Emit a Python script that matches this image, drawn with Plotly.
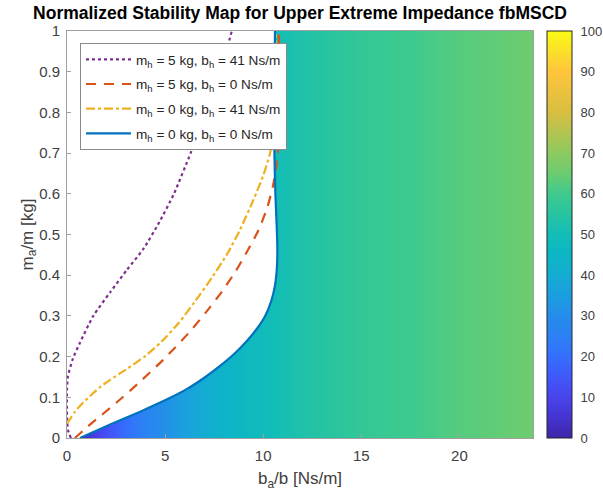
import plotly.graph_objects as go

# Stability index profile across the damping ratio axis (colour map values)
b_cols = [0, 1, 2, 3, 4, 5, 6, 7, 8, 9, 10, 11, 12, 13, 14, 15, 16, 17, 18, 19, 20, 21, 22, 23, 24]
idx_vals = [0, 5, 13, 20, 26, 31, 36, 40, 43.5, 46.5, 49, 51, 53, 54.5, 56, 57.5, 58.5, 59.5, 60.5,
            61.5, 62.5, 63.2, 64, 64.7, 65.4]
m_rows = [0, 1]

# Stability boundaries (b_a/b, m_a/m) for each human impedance case
blue_b = [0.66, 2.2, 3.7, 5.1, 6.1, 7.0, 7.8, 8.6, 9.2, 9.7, 10.1, 10.4, 10.6, 10.7, 10.72, 10.68,
          10.62, 10.57, 10.56, 10.58, 10.6]
blue_m = [0.0, 0.033, 0.064, 0.095, 0.12, 0.148, 0.177, 0.21, 0.24, 0.27, 0.30, 0.335, 0.375, 0.42,
          0.47, 0.53, 0.6, 0.7, 0.8, 0.9, 1.0]

orange_b = [0.4, 1.2, 2.5, 3.6, 4.9, 6.2, 7.1, 7.9, 8.6, 9.2, 9.75, 10.2, 10.5, 10.7, 10.8,
            10.82, 10.8]
orange_m = [0.0, 0.034, 0.086, 0.133, 0.192, 0.258, 0.31, 0.36, 0.41, 0.46, 0.51, 0.565, 0.62, 0.68,
            0.75, 0.85, 1.0]

yellow_b = [0.0, 0.41, 0.83, 1.26, 1.68, 2.2, 3.0, 4.0, 4.8, 5.7, 6.5, 7.4, 8.2, 8.8, 9.5, 10.0,
            10.35, 10.55, 10.65, 10.65]
yellow_m = [0.035, 0.065, 0.087, 0.107, 0.125, 0.143, 0.168, 0.202, 0.236, 0.283, 0.334, 0.395,
            0.455, 0.51, 0.585, 0.645, 0.7, 0.76, 0.85, 1.0]

purple_b = [0.2, 0.05, 0.0, 0.0, 0.05, 0.3, 0.66, 1.34, 2.2, 3.05, 3.9, 4.7, 5.45, 6.3, 7.0, 7.6,
            8.0, 8.4]
purple_m = [0.0, 0.02, 0.05, 0.12, 0.152, 0.195, 0.234, 0.30, 0.358, 0.413, 0.465, 0.53, 0.6, 0.7,
            0.79, 0.87, 0.93, 1.0]

labels = [
    "m<sub>h</sub> = 5 kg, b<sub>h</sub> = 41 Ns/m",
    "m<sub>h</sub> = 5 kg, b<sub>h</sub> = 0 Ns/m",
    "m<sub>h</sub> = 0 kg, b<sub>h</sub> = 41 Ns/m",
    "m<sub>h</sub> = 0 kg, b<sub>h</sub> = 0 Ns/m",
]

y_ticks = [0, 0.1, 0.2, 0.3, 0.4, 0.5, 0.6, 0.7, 0.8, 0.9, 1]
y_tick_text = ["0", "0.1", "0.2", "0.3", "0.4", "0.5", "0.6", "0.7", "0.8", "0.9", "1"]
x_ticks = [0, 5, 10, 15, 20]
cbar_ticks = [0, 10, 20, 30, 40, 50, 60, 70, 80, 90, 100]

parula = [
    [0.00, "rgb(62,38,168)"], [0.05, "rgb(69,52,208)"], [0.10, "rgb(72,68,236)"],
    [0.15, "rgb(64,88,250)"], [0.20, "rgb(52,111,253)"], [0.25, "rgb(45,128,245)"],
    [0.30, "rgb(36,141,234)"], [0.35, "rgb(28,158,224)"], [0.40, "rgb(20,172,210)"],
    [0.45, "rgb(12,182,196)"], [0.50, "rgb(18,189,184)"], [0.55, "rgb(40,196,160)"],
    [0.60, "rgb(62,202,142)"], [0.65, "rgb(108,204,112)"], [0.70, "rgb(142,202,96)"],
    [0.80, "rgb(216,190,65)"], [0.90, "rgb(254,197,60)"], [1.00, "rgb(249,251,21)"],
]

FONT = "Liberation Sans, Arial, sans-serif"
TXT = "#262626"

# figure geometry (pixels)
W, H = 603, 495
ML, MR, MT, MB = 67, 0, 31, 57
PLOT_RIGHT = 533
CBAR_LEFT = 547
inner_w = W - ML - MR

fig = go.Figure()

fig.add_trace(go.Heatmap(
    x=b_cols, y=m_rows, z=[idx_vals, idx_vals],
    zmin=0, zmax=100, zsmooth="best", colorscale=parula, showscale=True,
    colorbar=dict(
        x=(CBAR_LEFT - ML) / inner_w, xanchor="left", y=0.5, yanchor="middle",
        len=1.0, lenmode="fraction", xpad=0, ypad=0,
        thickness=25, thicknessmode="pixels", outlinewidth=1, outlinecolor=TXT,
        tickvals=cbar_ticks, ticks="outside", ticklen=6, tickcolor="rgba(0,0,0,0)",
        tickfont=dict(family=FONT, size=13, color="#404040"),
    ),
    hoverinfo="skip", showlegend=False,
))

# unstable region to the left of the nominal boundary is left blank
fig.add_trace(go.Scatter(
    x=blue_b, y=blue_m, mode="lines", line=dict(width=0, shape="spline", smoothing=0.6),
    fill="tozerox", fillcolor="white", showlegend=False, hoverinfo="skip",
))

curves = [
    (purple_b, purple_m, "#7E2F8E", "dot", labels[0]),
    (orange_b, orange_m, "#D95319", "10px,8px", labels[1]),
    (yellow_b, yellow_m, "#EDB120", "dashdot", labels[2]),
    (blue_b, blue_m, "#0072BD", "solid", labels[3]),
]
for i, (bx, my, col, dash, name) in enumerate(curves):
    fig.add_trace(go.Scatter(
        x=bx, y=my, mode="lines", name=name, legendgroup=f"g{i}",
        line=dict(color=col, width=2.2, dash=dash, shape="spline", smoothing=0.6),
    ))

axis_common = dict(
    showline=True, mirror=True, linecolor="#a0a0a0", linewidth=1,
    ticks="inside", ticklen=4, tickcolor="#a0a0a0",
    showgrid=False, zeroline=False,
    tickfont=dict(family=FONT, size=15, color="#404040"),
)

fig.update_layout(
    width=W, height=H,
    margin=dict(l=ML, r=MR, t=MT, b=MB, autoexpand=False),
    paper_bgcolor="white", plot_bgcolor="white",
    title=dict(
        text="<b>Normalized Stability Map for Upper Extreme Impedance fbMSCD</b>",
        x=(ML + PLOT_RIGHT) / 2 / W, xanchor="center", y=1 - 13 / H, yanchor="middle",
        font=dict(family=FONT, size=17.5, color="#000000"),
    ),
    xaxis=dict(
        domain=[0, (PLOT_RIGHT - ML) / inner_w],
        range=[0, 23.75], tickvals=x_ticks, ticklabelstandoff=4,
        title=dict(text="b<sub>a</sub>/b [Ns/m]", standoff=9,
                   font=dict(family=FONT, size=17, color="#404040")),
        **axis_common,
    ),
    yaxis=dict(
        range=[0, 1], tickvals=y_ticks, ticktext=y_tick_text, ticklabelstandoff=3,
        title=dict(text="m<sub>a</sub>/m [kg]", standoff=1,
                   font=dict(family=FONT, size=17, color="#404040")),
        **axis_common,
    ),
    legend=dict(
        x=(80 - ML) / inner_w, y=(H - MB - 43) / (H - MB - MT), xanchor="left", yanchor="top",
        bgcolor="white", bordercolor="#8a8a8a", borderwidth=1,
        font=dict(family=FONT, size=13.6, color="#262626"),
        traceorder="grouped", tracegroupgap=4, itemwidth=45,
    ),
)

fig.write_html("out.html")
